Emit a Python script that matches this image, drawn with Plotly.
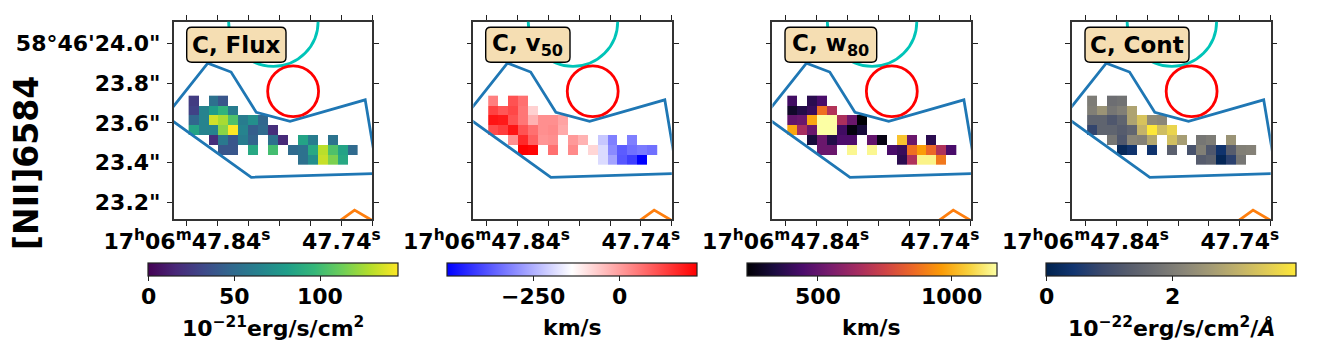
import plotly.graph_objects as go
from plotly.subplots import make_subplots

_ = None

ra_cells = [47.8357, 47.8293, 47.8228, 47.8164, 47.8099, 47.8035, 47.7971, 47.7906, 47.7842,
	47.7777, 47.7713, 47.7649, 47.7584, 47.7520, 47.7455, 47.7391, 47.7326]
dec_cells = [23.7125, 23.6625, 23.6125, 23.5625, 23.5125, 23.4625, 23.4125]

flux = [
	[26, _, 54, 39, _, _, _, _, _, _, _, _, _, _, _, _, _],
	[29, 65, 80, 94, 61, _, _, _, _, _, _, _, _, _, _, _, _],
	[48, 65, 135, 126, 104, 61, 72, 48, _, _, _, _, _, _, _, _, _],
	[84, 65, 65, 119, 145, 65, 43, 50, 19, _, _, _, _, _, _, _, _],
	[_, _, 19, 58, 39, 61, 46, _, 54, 17, _, 84, 61, _, 55, _, _],
	[_, _, _, 39, 39, _, 87, _, 101, _, 50, 54, 87, 130, 104, 84, 50],
	[_, _, _, _, _, _, _, _, _, _, _, 54, 72, 133, 116, 87, _],
]
v50 = [
	[46, _, 111, 68, _, _, _, _, _, _, _, _, _, _, _, _, _],
	[133, 104, 126, 60, -71, _, _, _, _, _, _, _, _, _, _, _, _],
	[199, 192, 111, 60, -27, 24, 24, -5, _, _, _, _, _, _, _, _, _],
	[119, 141, 199, 111, 68, 24, 31, -13, _, _, _, _, _, _, _, _, _],
	[_, _, 24, 170, 89, 17, 24, _, 9, -27, _, -217, -319, _, -319, _, _],
	[_, _, _, 228, 221, _, 68, _, 31, _, -78, -188, -304, -370, -341, -326, -341],
	[_, _, _, _, _, _, _, _, _, _, _, -188, -268, -377, -413, -501, _],
]
w80 = [
	[422, _, 375, 440, _, _, _, _, _, _, _, _, _, _, _, _, _],
	[300, 356, 403, 870, 683, _, _, _, _, _, _, _, _, _, _, _, _],
	[497, 515, 982, 1169, 1169, 665, 515, 235, _, _, _, _, _, _, _, _, _],
	[982, 655, 515, 1169, 1169, 422, 254, 328, _, _, _, _, _, _, _, _, _],
	[_, _, 328, 515, 356, 450, 450, _, 497, 263, _, 1038, 515, _, 375, _, _],
	[_, _, _, 515, 515, _, 1150, _, 1150, _, 440, 403, 870, 963, 851, 674, 440],
	[_, _, _, _, _, _, _, _, _, _, _, 375, 674, 1141, 1141, 889, _],
]
cont = [
	[1.98, _, 1.70, 1.78, _, _, _, _, _, _, _, _, _, _, _, _, _],
	[2.05, 2.45, 1.86, 2.05, 2.77, _, _, _, _, _, _, _, _, _, _, _, _],
	[1.46, 1.46, 1.19, 1.46, 2.77, 3.36, 2.29, 2.21, _, _, _, _, _, _, _, _, _],
	[0.79, 1.46, 1.46, 1.30, 1.50, 3.08, 3.95, 3.24, 3.63, _, _, _, _, _, _, _, _],
	[_, _, 1.86, 1.19, 2.17, 2.09, 2.84, _, 3.28, 2.65, _, 1.86, 1.98, _, 2.45, _, _],
	[_, _, _, 0.16, 0.40, _, 0.40, _, 1.38, _, 1.07, 2.05, 1.19, 0.40, 1.30, 2.05, 2.09],
	[_, _, _, _, _, _, _, _, _, _, _, 1.30, 1.42, 0.12, 0.71, 1.86, _],
]

bwr = [[0, '#0000ff'], [0.5, '#ffffff'], [1, '#ff0000']]

panel_data = [flux, v50, w80, cont]
panel_names = ['C, Flux', 'C, v<sub>50</sub>', 'C, w<sub>80</sub>', 'C, Cont']
panel_cmaps = ['Viridis', bwr, 'Inferno', 'Cividis']
panel_zmin = [0, -501, 235, 0]
panel_zmax = [145, 228, 1169, 3.95]
cbar_ticks = [[0, 50, 100], [-250, 0], [500, 1000], [0, 2]]
cbar_labels = [['0', '50', '100'], ['\u2212250', '0'], ['500', '1000'], ['0', '2']]
cbar_titles = ['10<sup>\u221221</sup>erg/s/cm<sup>2</sup>', 'km/s', 'km/s', '10<sup>\u221222</sup>erg/s/cm<sup>2</sup>/<i>\u00c5</i>']

ra_ticks = [47.84, 47.82, 47.80, 47.78, 47.76, 47.74, 47.72]
ra_labels = ['17<sup>h</sup>06<sup>m</sup>47.84<sup>s</sup>', '', '', '', '', '47.74<sup>s</sup>', '']
dec_ticks = [24.0, 23.8, 23.6, 23.4, 23.2]
dec_labels = ['58\u00b046\'24.0"', '23.8"', '23.6"', '23.4"', '23.2"']

region_ra = [47.8537, 47.8265, 47.8114, 47.7951, 47.7732, 47.7245, 47.7165, 47.7983, 47.8537]
region_dec = [23.635, 23.9015, 23.8565, 23.6535, 23.6085, 23.7165, 23.346, 23.3265, 23.635]
slit_ra = [47.7436, 47.7314, 47.7165]
slit_dec = [23.0925, 23.1615, 23.093]

# positions on the page, px. The page body adds an 8 px margin around the figure
BODY = 8
W = 1312
H = 340
panel_left = [173.7, 473.3, 772.4, 1072.2]
panel_w = 198.5
panel_top = 21.7
panel_bottom = 219.3
cbar_left = [148, 447.3, 746.7, 1046]
cbar_w = 250
cbar_h = 13
box_left = [186.7, 485.7, 785, 1085]
box_right = [286, 570, 876.7, 1189]
box_top = 27.3
box_bottom = 62.3

FONT = 'DejaVu Sans'

def px(x):
	return (x - BODY) / W

def py(y):
	return 1 - (y - BODY) / H

def rounded_box(x0, x1, y0, y1, r = 5):
	return (f'M {px(x0 + r)} {py(y0)} L {px(x1 - r)} {py(y0)} Q {px(x1)} {py(y0)} {px(x1)} {py(y0 + r)} '
		f'L {px(x1)} {py(y1 - r)} Q {px(x1)} {py(y1)} {px(x1 - r)} {py(y1)} '
		f'L {px(x0 + r)} {py(y1)} Q {px(x0)} {py(y1)} {px(x0)} {py(y1 - r)} '
		f'L {px(x0)} {py(y0 + r)} Q {px(x0)} {py(y0)} {px(x0 + r)} {py(y0)} Z')

fig = make_subplots(rows = 1, cols = 4)

for i in range(4):
	col = i + 1
	fig.add_trace(go.Heatmap(
		x = ra_cells, y = dec_cells, z = panel_data[i],
		colorscale = panel_cmaps[i], zmin = panel_zmin[i], zmax = panel_zmax[i],
		hoverongaps = False,
		colorbar = dict(
			orientation = 'h',
			lenmode = 'pixels', len = cbar_w,
			thicknessmode = 'pixels', thickness = cbar_h,
			x = px(cbar_left[i]), xanchor = 'left',
			y = py(263), yanchor = 'top', ypad = 0, xpad = 0,
			outlinecolor = '#222222', outlinewidth = 1.2,
			ticks = 'outside', ticklen = 5, tickwidth = 1, tickcolor = '#222222',
			tickvals = cbar_ticks[i], showticklabels = False,
		),
	), row = 1, col = col)
	fig.add_trace(go.Scatter(x = region_ra, y = region_dec, mode = 'lines', showlegend = False,
		line = dict(color = '#1f77b4', width = 2.8)), row = 1, col = col)
	fig.add_trace(go.Scatter(x = slit_ra, y = slit_dec, mode = 'lines', showlegend = False,
		line = dict(color = '#ff7f0e', width = 2.8)), row = 1, col = col)

	fig.update_xaxes(
		domain = [px(panel_left[i]), px(panel_left[i] + panel_w)],
		range = [47.84857, 47.71996], tickmode = 'array', tickvals = ra_ticks, ticktext = ra_labels,
		ticks = 'outside', ticklen = 5, tickwidth = 1, tickcolor = '#222222',
		showline = True, linecolor = '#333333', linewidth = 1.5, mirror = 'ticks', showgrid = False, zeroline = False,
		tickangle = 0, ticklabelstandoff = -3,
		tickfont = dict(family = FONT, size = 22, color = 'black', weight = 700),
		row = 1, col = col)
	fig.update_yaxes(
		domain = [py(panel_bottom), py(panel_top)],
		range = [23.115, 24.11], tickmode = 'array', tickvals = dec_ticks, ticktext = dec_labels,
		showticklabels = i == 0, ticklabelstandoff = 2,
		ticks = 'outside', ticklen = 5, tickwidth = 1, tickcolor = '#222222',
		showline = True, linecolor = '#333333', linewidth = 1.5, mirror = 'ticks', showgrid = False, zeroline = False,
		tickfont = dict(family = FONT, size = 22, color = 'black', weight = 700),
		row = 1, col = col)

	xref = 'x' if i == 0 else f'x{col}'
	yref = 'y' if i == 0 else f'y{col}'
	# cyan and red circles on the sky, clipped by the axes
	fig.add_shape(type = 'circle', xref = xref, yref = yref, x0 = 47.784 + 0.02898, x1 = 47.784 - 0.02898,
		y0 = 24.11 - 0.225, y1 = 24.11 + 0.225, line = dict(color = '#00c4b8', width = 2.8))
	fig.add_shape(type = 'circle', xref = xref, yref = yref, x0 = 47.7712 + 0.01649, x1 = 47.7712 - 0.01649,
		y0 = 23.76 - 0.128, y1 = 23.76 + 0.128, line = dict(color = '#ff0000', width = 2.8))
	fig.add_shape(type = 'path', xref = 'paper', yref = 'paper', layer = 'above',
		path = rounded_box(box_left[i], box_right[i], box_top, box_bottom),
		fillcolor = '#f5deb3', line = dict(color = 'black', width = 1.4))
	fig.add_annotation(text = panel_names[i], xref = 'paper', yref = 'paper',
		x = px((box_left[i] + box_right[i]) / 2), y = py((box_top + box_bottom) / 2),
		xanchor = 'center', yanchor = 'middle', showarrow = False,
		font = dict(family = FONT, size = 23, color = 'black', weight = 700))
	fig.add_annotation(text = cbar_titles[i], xref = 'paper', yref = 'paper',
		x = px(cbar_left[i] + cbar_w / 2), y = py(327),
		xanchor = 'center', yanchor = 'middle', showarrow = False,
		font = dict(family = FONT, size = 22, color = 'black', weight = 700))
	#NOTE: Colorbar labels sit too low when the colorbar draws them, so they go here
	for val, label in zip(cbar_ticks[i], cbar_labels[i]):
		frac = (val - panel_zmin[i]) / (panel_zmax[i] - panel_zmin[i])
		fig.add_annotation(text = label, xref = 'paper', yref = 'paper',
			x = px(cbar_left[i] + frac * cbar_w), y = py(296.5),
			xanchor = 'center', yanchor = 'middle', showarrow = False,
			font = dict(family = FONT, size = 22, color = 'black', weight = 700))

fig.add_annotation(text = '[NII]6584', xref = 'paper', yref = 'paper', x = px(27), y = py(163),
	textangle = -90, xanchor = 'center', yanchor = 'middle', showarrow = False,
	font = dict(family = FONT, size = 33, color = 'black', weight = 700))

fig.update_layout(
	width = W, height = H,
	margin = dict(l = 0, r = 0, t = 0, b = 0, autoexpand = False),
	paper_bgcolor = 'white', plot_bgcolor = 'white',
	showlegend = False,
)

fig.write_html("out.html")
